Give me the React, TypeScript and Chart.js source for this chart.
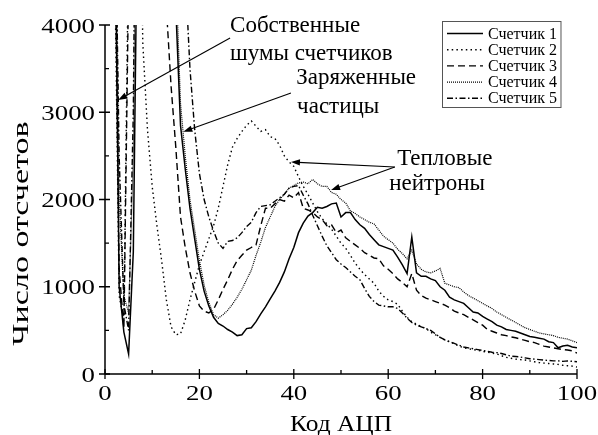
import React, { useEffect, useRef } from "react";
import { Chart, registerables } from "chart.js";

Chart.register(...registerables);

// ---- DATA ----
const adcCodes = [
  0, 1, 2, 3, 4, 5, 6, 7, 8, 9, 10, 11, 12, 13, 14, 15, 16, 17, 18, 19, 20,
  21, 22, 23, 24, 25, 26, 27, 28, 29, 30, 31, 32, 33, 34, 35, 36, 37, 38, 39, 40,
  41, 42, 43, 44, 45, 46, 47, 48, 49, 50, 51, 52, 53, 54, 55, 56, 57, 58, 59, 60,
  61, 62, 63, 64, 65, 66, 67, 68, 69, 70, 71, 72, 73, 74, 75, 76, 77, 78, 79, 80,
  81, 82, 83, 84, 85, 86, 87, 88, 89, 90, 91, 92, 93, 94, 95, 96, 97, 98, 99, 100,
];

const counter1 = [
  8000, 8000, 6000, 1000, 480, 230, 1400, 6000, 8000, 8000, 8000,
  8000, 8000, 8000, 6000, 4200, 2850, 2350, 1900, 1550, 1200,
  950, 780, 650, 580, 550, 510, 480, 440, 450, 520,
  530, 600, 690, 770, 860, 950, 1050, 1170, 1320, 1450,
  1620, 1730, 1810, 1850, 1910, 1900, 1920, 1950, 1960, 1800,
  1850, 1850, 1770, 1710, 1670, 1600, 1540, 1480, 1460, 1440,
  1420, 1340, 1250, 1150, 1570, 1160, 1120, 1120, 1090, 1070,
  1000, 960, 880, 850, 830, 810, 760, 710, 700, 660,
  630, 600, 560, 540, 510, 500, 490, 470, 450, 430,
  420, 410, 400, 370, 360, 300, 320, 330, 310, 300,
];

const counter2 = [
  8000, 8000, 5000, 900, 600, 5000, 9000, 8000, 3800, 2800, 2150,
  1700, 1300, 850, 540, 450, 460, 620, 850, 1050, 1250,
  1400, 1550, 1700, 1900, 2150, 2400, 2600, 2700, 2780, 2850,
  2900, 2840, 2780, 2800, 2720, 2700, 2620, 2500, 2430, 2380,
  2260, 2150, 2060, 1960, 1860, 1780, 1720, 1660, 1580, 1500,
  1440, 1360, 1270, 1200, 1140, 1090, 1040, 950, 890, 850,
  830, 800, 720, 650, 600, 570, 545, 520, 480, 450,
  420, 390, 370, 345, 320, 300, 290, 280, 270, 260,
  250, 240, 230, 210, 190, 180, 170, 165, 160, 150,
  140, 130, 125, 120, 115, 110, 100, 95, 90, 80,
];

const counter3 = [
  8000, 8000, 5500, 1200, 520, 4500, 8000, 8000, 8000, 8000, 8000,
  8000, 8000, 4200, 3300, 2600, 1800, 1450, 1160, 950, 780,
  720, 700, 740, 850, 970, 1080, 1200, 1300, 1360, 1420,
  1450, 1480, 1700, 1900, 1900, 1950, 2000, 1980, 2050, 2020,
  2080, 1900, 1880, 1850, 1800, 1770, 1700, 1710, 1620, 1650,
  1560, 1520, 1480, 1440, 1390, 1360, 1330, 1320, 1240, 1200,
  1150, 1090, 1050, 1000, 1150, 960, 900, 870, 850, 830,
  810, 790, 760, 720, 700, 680, 650, 620, 590, 560,
  510, 490, 470, 450, 440, 425, 415, 400, 385, 370,
  360, 340, 320, 310, 300, 290, 280, 275, 265, 240,
];

const counter4 = [
  8000, 8000, 6500, 2000, 900, 700, 2500, 8000, 8000, 8000, 8000,
  8000, 8000, 8000, 8000, 4600, 3100, 2500, 2000, 1650, 1300,
  1020, 820, 680, 640, 680, 730, 800, 880, 970, 1080,
  1190, 1360, 1510, 1680, 1800, 1920, 2000, 2060, 2130, 2160,
  2190, 2200, 2180, 2230, 2180, 2150, 2150, 2080, 2060, 2000,
  1960, 1870, 1840, 1800, 1770, 1740, 1720, 1650, 1580, 1540,
  1500, 1430, 1380, 1320, 1420, 1260, 1200, 1170, 1160, 1180,
  1210, 1040, 1020, 1000, 990, 940, 900, 870, 840, 810,
  780, 750, 710, 680, 650, 620, 590, 560, 530, 510,
  490, 470, 460, 450, 440, 420, 410, 400, 380, 360,
];

const counter5 = [
  8000, 8000, 6000, 2500, 800, 500, 3000, 9000, 8000, 8000, 8000,
  8000, 8000, 8000, 8000, 8000, 8000, 4600, 3500, 2800, 2300,
  2000, 1800, 1640, 1500, 1440, 1520, 1530, 1560, 1620, 1690,
  1740, 1850, 1920, 1930, 1940, 1980, 2020, 2060, 2130, 2150,
  2160, 2050, 1950, 1820, 1700, 1580, 1470, 1390, 1310, 1260,
  1220, 1170, 1120, 1080, 980, 890, 830, 790, 780, 770,
  770, 750, 700, 640, 590, 560, 540, 520, 500, 460,
  420, 390, 370, 350, 330, 310, 300, 290, 280, 270,
  260, 250, 245, 235, 220, 205, 200, 195, 185, 175,
  170, 165, 160, 155, 150, 150, 145, 150, 145, 140,
];

const seriesLabels = ["Счетчик 1", "Счетчик 2", "Счетчик 3", "Счетчик 4", "Счетчик 5"];
const seriesValues = [counter1, counter2, counter3, counter4, counter5];

const xTitle = "Код АЦП";
const yTitle = "Число отсчетов";

// annotation texts
const noteNoise = ["Собственные", "шумы счетчиков"];
const noteCharged = ["Заряженные", "частицы"];
const noteThermal = ["Тепловые", "нейтроны"];

// ---- STYLE ----
const FONT = "'Liberation Serif', 'Times New Roman', serif";
const dashes: number[][] = [[], [1.5, 3.2], [7, 4], [1, 1], [6, 2.5, 1.5, 2.5]];
const widths = [1.5, 1.4, 1.4, 1.2, 1.4];

function txt(
  ctx: CanvasRenderingContext2D,
  s: string,
  x: number,
  y: number,
  size: number,
  sx: number,
  align: CanvasTextAlign,
  rot = 0
) {
  ctx.save();
  ctx.translate(x, y);
  if (rot) ctx.rotate(rot);
  ctx.scale(sx, 1);
  ctx.font = `${size}px ${FONT}`;
  ctx.textAlign = align;
  ctx.textBaseline = "alphabetic";
  ctx.fillStyle = "#000";
  ctx.fillText(s, 0, 0);
  ctx.restore();
}

function arrow(ctx: CanvasRenderingContext2D, x1: number, y1: number, x2: number, y2: number) {
  const ang = Math.atan2(y2 - y1, x2 - x1);
  const L = 9;
  const W = 3.2;
  ctx.save();
  ctx.strokeStyle = "#000";
  ctx.fillStyle = "#000";
  ctx.lineWidth = 1.1;
  ctx.setLineDash([]);
  ctx.beginPath();
  ctx.moveTo(x1, y1);
  ctx.lineTo(x2 - Math.cos(ang) * L * 0.8, y2 - Math.sin(ang) * L * 0.8);
  ctx.stroke();
  ctx.beginPath();
  ctx.moveTo(x2, y2);
  ctx.lineTo(x2 - Math.cos(ang) * L - Math.sin(ang) * W, y2 - Math.sin(ang) * L + Math.cos(ang) * W);
  ctx.lineTo(x2 - Math.cos(ang) * L + Math.sin(ang) * W, y2 - Math.sin(ang) * L - Math.cos(ang) * W);
  ctx.closePath();
  ctx.fill();
  ctx.restore();
}

const decorPlugin = {
  id: "decor",
  afterDraw(chart: any) {
    const ctx: CanvasRenderingContext2D = chart.ctx;
    const { left, right, top, bottom } = chart.chartArea;
    const xs = chart.scales.x;
    const ys = chart.scales.y;
    const X = (v: number) => xs.getPixelForValue(v);
    const Y = (v: number) => ys.getPixelForValue(v);

    ctx.save();
    ctx.strokeStyle = "#000";
    ctx.lineWidth = 1.5;
    ctx.setLineDash([]);
    ctx.beginPath();
    ctx.moveTo(left, top);
    ctx.lineTo(left, bottom);
    ctx.moveTo(left, bottom);
    ctx.lineTo(right, bottom);
    ctx.stroke();

    ctx.lineWidth = 1.3;
    ctx.beginPath();
    for (const t of ys.ticks) {
      const py = Y(t.value);
      if (t.value % 1000 === 0) {
        ctx.moveTo(left - 6, py);
        ctx.lineTo(left + 5, py);
      } else {
        ctx.moveTo(left, py);
        ctx.lineTo(left + 4, py);
      }
    }
    for (const t of xs.ticks) {
      const px = X(t.value);
      if (t.value % 20 === 0) {
        ctx.moveTo(px, bottom + 5);
        ctx.lineTo(px, bottom - 5);
      } else {
        ctx.moveTo(px, bottom);
        ctx.lineTo(px, bottom - 4);
      }
    }
    ctx.stroke();
    ctx.restore();

    // tick labels
    for (const t of ys.ticks) {
      if (t.value % 1000 !== 0) continue;
      txt(ctx, String(t.label), left - 10, Y(t.value) + 7.5, 22, 1.22, "right");
    }
    for (const t of xs.ticks) {
      if (t.value % 20 !== 0) continue;
      txt(ctx, String(t.label), X(t.value), bottom + 26, 22, 1.22, "center");
    }

    // axis titles
    txt(ctx, xTitle, (left + right) / 2, 431, 24, 1.06, "center");
    txt(ctx, yTitle, 28, (top + bottom) / 2 + 34, 24, 1.42, "center", -Math.PI / 2);

    // annotations
    txt(ctx, noteNoise[0], X(26.5), Y(3920), 23, 1.0, "left");
    txt(ctx, noteNoise[1], X(26.5), Y(3600), 23, 1.0, "left");
    txt(ctx, noteCharged[0], X(40.5), Y(3324), 23, 1.0, "left");
    txt(ctx, noteCharged[1], X(40.7), Y(2991), 23, 1.0, "left");
    txt(ctx, noteThermal[0], X(61.9), Y(2395), 23, 1.0, "left");
    txt(ctx, noteThermal[1], X(60.2), Y(2109), 23, 1.0, "left");

    arrow(ctx, X(26.5), Y(3851), X(2.8), Y(3140));
    arrow(ctx, X(39.4), Y(3221), X(16.6), Y(2777));
    arrow(ctx, X(61.4), Y(2372), X(39.4), Y(2430));
    arrow(ctx, X(61.4), Y(2372), X(47.9), Y(2109));

    // legend
    ctx.save();
    ctx.font = `16px ${FONT}`;
    let maxW = 0;
    for (const s of seriesLabels) maxW = Math.max(maxW, ctx.measureText(s).width);
    const bx = 442.5;
    const by = 21.5;
    const bw = 488 - bx + maxW + 4;
    const bh = 86;
    ctx.fillStyle = "#fff";
    ctx.fillRect(bx, by, bw, bh);
    ctx.strokeStyle = "#555";
    ctx.lineWidth = 1;
    ctx.strokeRect(bx, by, bw, bh);
    chart.data.datasets.forEach((ds: any, i: number) => {
      const cy = 33.5 + i * 16.2;
      ctx.strokeStyle = "#000";
      ctx.lineWidth = ds.borderWidth;
      ctx.setLineDash(ds.borderDash || []);
      ctx.beginPath();
      ctx.moveTo(447, cy);
      ctx.lineTo(483, cy);
      ctx.stroke();
      ctx.setLineDash([]);
      txt(ctx, ds.label, 488, cy + 5, 16, 1.0, "left");
    });
    ctx.restore();
  },
};

export default function App() {
  const ref = useRef<HTMLCanvasElement | null>(null);

  useEffect(() => {
    document.body.style.margin = "0";
    const canvas = ref.current!;
    const chart = new Chart(canvas, {
      type: "line",
      data: {
        datasets: seriesValues.map((vals, i) => ({
          label: seriesLabels[i],
          data: adcCodes.map((x, k) => ({ x, y: vals[k] })),
          borderColor: "#000",
          backgroundColor: "#000",
          borderWidth: widths[i],
          borderDash: dashes[i],
          pointRadius: 0,
          tension: 0,
          fill: false,
        })),
      },
      options: {
        responsive: false,
        animation: false,
        devicePixelRatio: 1,
        layout: { padding: { left: 0, right: 21, top: 25, bottom: 0 } },
        plugins: {
          legend: { display: false },
          tooltip: { enabled: false },
          title: { display: false },
        },
        scales: {
          x: {
            type: "linear",
            min: 0,
            max: 100,
            grid: { display: false, drawTicks: false },
            border: { display: false },
            ticks: { display: false, stepSize: 10, callback: (v: any) => String(v) },
            afterFit: (s: any) => {
              s.height = 61;
            },
          },
          y: {
            type: "linear",
            min: 0,
            max: 4000,
            grid: { display: false, drawTicks: false },
            border: { display: false },
            ticks: { display: false, stepSize: 500, callback: (v: any) => String(v) },
            afterFit: (s: any) => {
              s.width = 105;
            },
          },
        },
      },
      plugins: [decorPlugin],
    });
    return () => chart.destroy();
  }, []);

  return (
    <div style={{ position: "fixed", left: 0, top: 0, width: 598, height: 435, background: "#fff" }}>
      <canvas ref={ref} width={598} height={435} style={{ width: "598px", height: "435px" }} />
    </div>
  );
}
